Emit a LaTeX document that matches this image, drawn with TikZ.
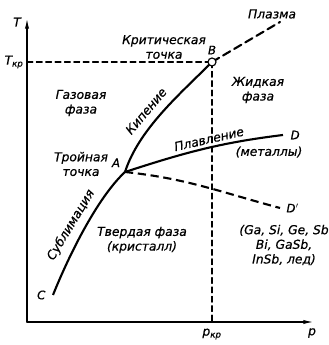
\documentclass[tikz,border=0pt]{standalone}
\usepackage{fontspec}
\setmainfont{DejaVu Sans}
\newfontfamily\diagfont[FakeBold=0.6]{DejaVu Sans}
\usepackage{tikz}
\usetikzlibrary{calc, arrows.meta}
\usepackage{tkz-euclide}
\usepackage{xcolor}

\tikzset{
    phase/.style = {font=\fontsize{10.5}{12.5}\selectfont\diagfont\itshape, align=center, inner sep=0pt},
    phasecurve/.style = {black, line width=1.8pt},
    phasedash/.style = {black, line width=1.8pt, dash pattern=on 7pt off 4pt},
    guideline/.style = {black, line width=0.9pt, dash pattern=on 5pt off 3pt},
    axisarrow/.style = {black, line width=1.2pt, -{Latex[length=9pt, width=3.5pt]}}
}

\begin{document}
\begin{tikzpicture}[x=0.03cm, y=0.03cm]
            \useasboundingbox (0,0) rectangle (328,345);
            \tkzDefPoints{27/23/O, 27/327/T, 314/23/P, 212/283/B, 212/23/Bx, 27/283/By, 280/323/L, 125/173/A, 53/50/C, 283/210/D, 280/137/D'}
            \tkzDrawSegments[axisarrow](O,T O,P)
            \tkzDrawSegments[guideline](By,B B,Bx)
            \tkzDrawSegment[phasedash](B,L)
            \draw[phasecurve] (C) .. controls (67,85) and (96,146) .. (A);
            \draw[phasecurve] (A) .. controls (139,216) and (180,251) .. (B);
            \draw[phasecurve] (A) to[out=18, in=187] (D);
            \draw[phasedash] (A) to[out=-6, in=165] (D');
            \draw[black, line width=1pt, fill=white] (B) circle (4);
            \tkzLabelPoint[above=3pt](B){\diagfont\itshape B}
            \tkzLabelPoint[above left=1pt](A){\diagfont\itshape A}
            \tkzLabelPoint[left=3pt](C){\diagfont\itshape C}
            \tkzLabelPoint[right=3pt](D){\diagfont\itshape D}
            \tkzLabelPoint[right=2pt](D'){\diagfont\itshape D$'$}
            \node[phase] (tlab) at (17,323) {T};
            \node[phase] (tkr) at (14,283) {T\textsubscript{кр}};
            \node[phase] (plab) at (312,12) {p};
            \node[phase] (pkr) at (212,11) {p\textsubscript{кр}};
            \node[phase] (plasma) at (272,331) {Плазма};
            \node[phase] (crit) at (164,298) {Критическая\\точка};
            \node[phase] (liquid) at (258,255) {Жидкая\\фаза};
            \node[phase] (gas) at (81,242) {Газовая\\фаза};
            \node[phase] (triple) at (81,181) {Тройная\\точка};
            \node[phase] (solid) at (142,105) {Твердая фаза\\(кристалл)};
            \node[phase] (metals) at (269,193) {(металлы)};
            \node[phase] (others) at (284,100) {(Ga, Si, Ge, Sb\\Bi, GaSb,\\InSb, лед)};
            \node[phase, rotate=13] (melt) at (209,206) {Плавление};
            \node[phase, rotate=50] (boil) at (146,234) {Кипение};
            \node[phase, rotate=59] (subl) at (71,120) {Сублимация};
        \end{tikzpicture}
\end{document}
